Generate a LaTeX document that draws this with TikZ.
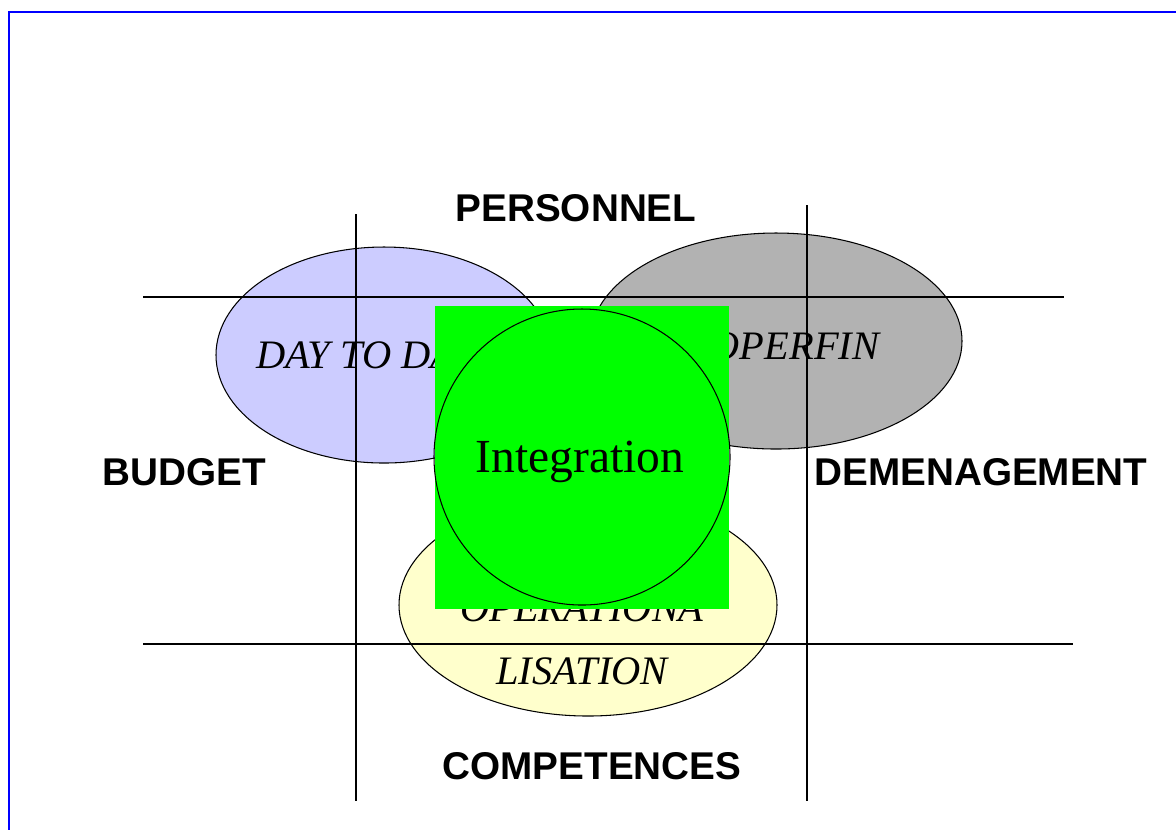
\documentclass[tikz,border=0pt]{standalone}
\usepackage{fontspec}
\setmainfont{Liberation Serif}
\newfontfamily\boxfont{Liberation Sans}

\definecolor{lavender}{HTML}{CCCCFF}
\definecolor{greyfill}{HTML}{B2B2B2}
\definecolor{paleyellow}{HTML}{FFFFCC}
\definecolor{brightgreen}{HTML}{00FF00}

\tikzset{
	side/.style={font=\boxfont\fontsize{11}{13}\selectfont\bfseries},
	inner/.style={font=\fontsize{11.5}{18}\selectfont\itshape, align=center},
	bubble/.style={draw=black, line width=0.3pt},
	grid line/.style={line width=0.7pt}
}

\begin{document}
\begin{tikzpicture}[x=0.01cm, y=-0.01cm]
	
	\useasboundingbox (0,0) rectangle (1176,829);
	\clip (0,0) rectangle (1176,829);
	
	% Frame in blue
	\draw[blue, line width=0.6pt] (9,12) rectangle (1200,860);
	
	% Ellipses
	\draw[bubble, fill=lavender] (384,355) ellipse (168 and 108);
	\draw[bubble, fill=greyfill] (776,341) ellipse (186 and 108);
	\draw[bubble, fill=paleyellow] (588,605) ellipse (189 and 111);
	
	% Texts in the ellipses
	\node[inner] (daytoday) at (366,355) {DAY TO DAY};
	\node[inner] (operfin) at (795,346) {OPERFIN};
	\node[inner] (operation) at (582,640) {OPERATIONA\\LISATION};
	
	% Lines
	\draw[grid line] (143,297) -- (1064,297);    % upper line
	\draw[grid line] (143,644) -- (1073,644);    % lower line
	\draw[grid line] (356,214) -- (356,801);     % left line
	\draw[grid line] (807,205) -- (807,801);     % right line
	
	% Green square with circle
	\fill[brightgreen] (435,306) rectangle (729,609);
	\draw[bubble] (582,457) circle (148);
	\node[font=\fontsize{13.5}{16}\selectfont] (integration) at (580,462) {Integration};
	
	% Labels
	\node[side] (personnel) at (576,208) {PERSONNEL};
	\node[side] (budget) at (184,472) {BUDGET};
	\node[side] (demenagement) at (981,472) {DEMENAGEMENT};
	\node[side] (competences) at (592,766) {COMPETENCES};
	
\end{tikzpicture}
\end{document}
